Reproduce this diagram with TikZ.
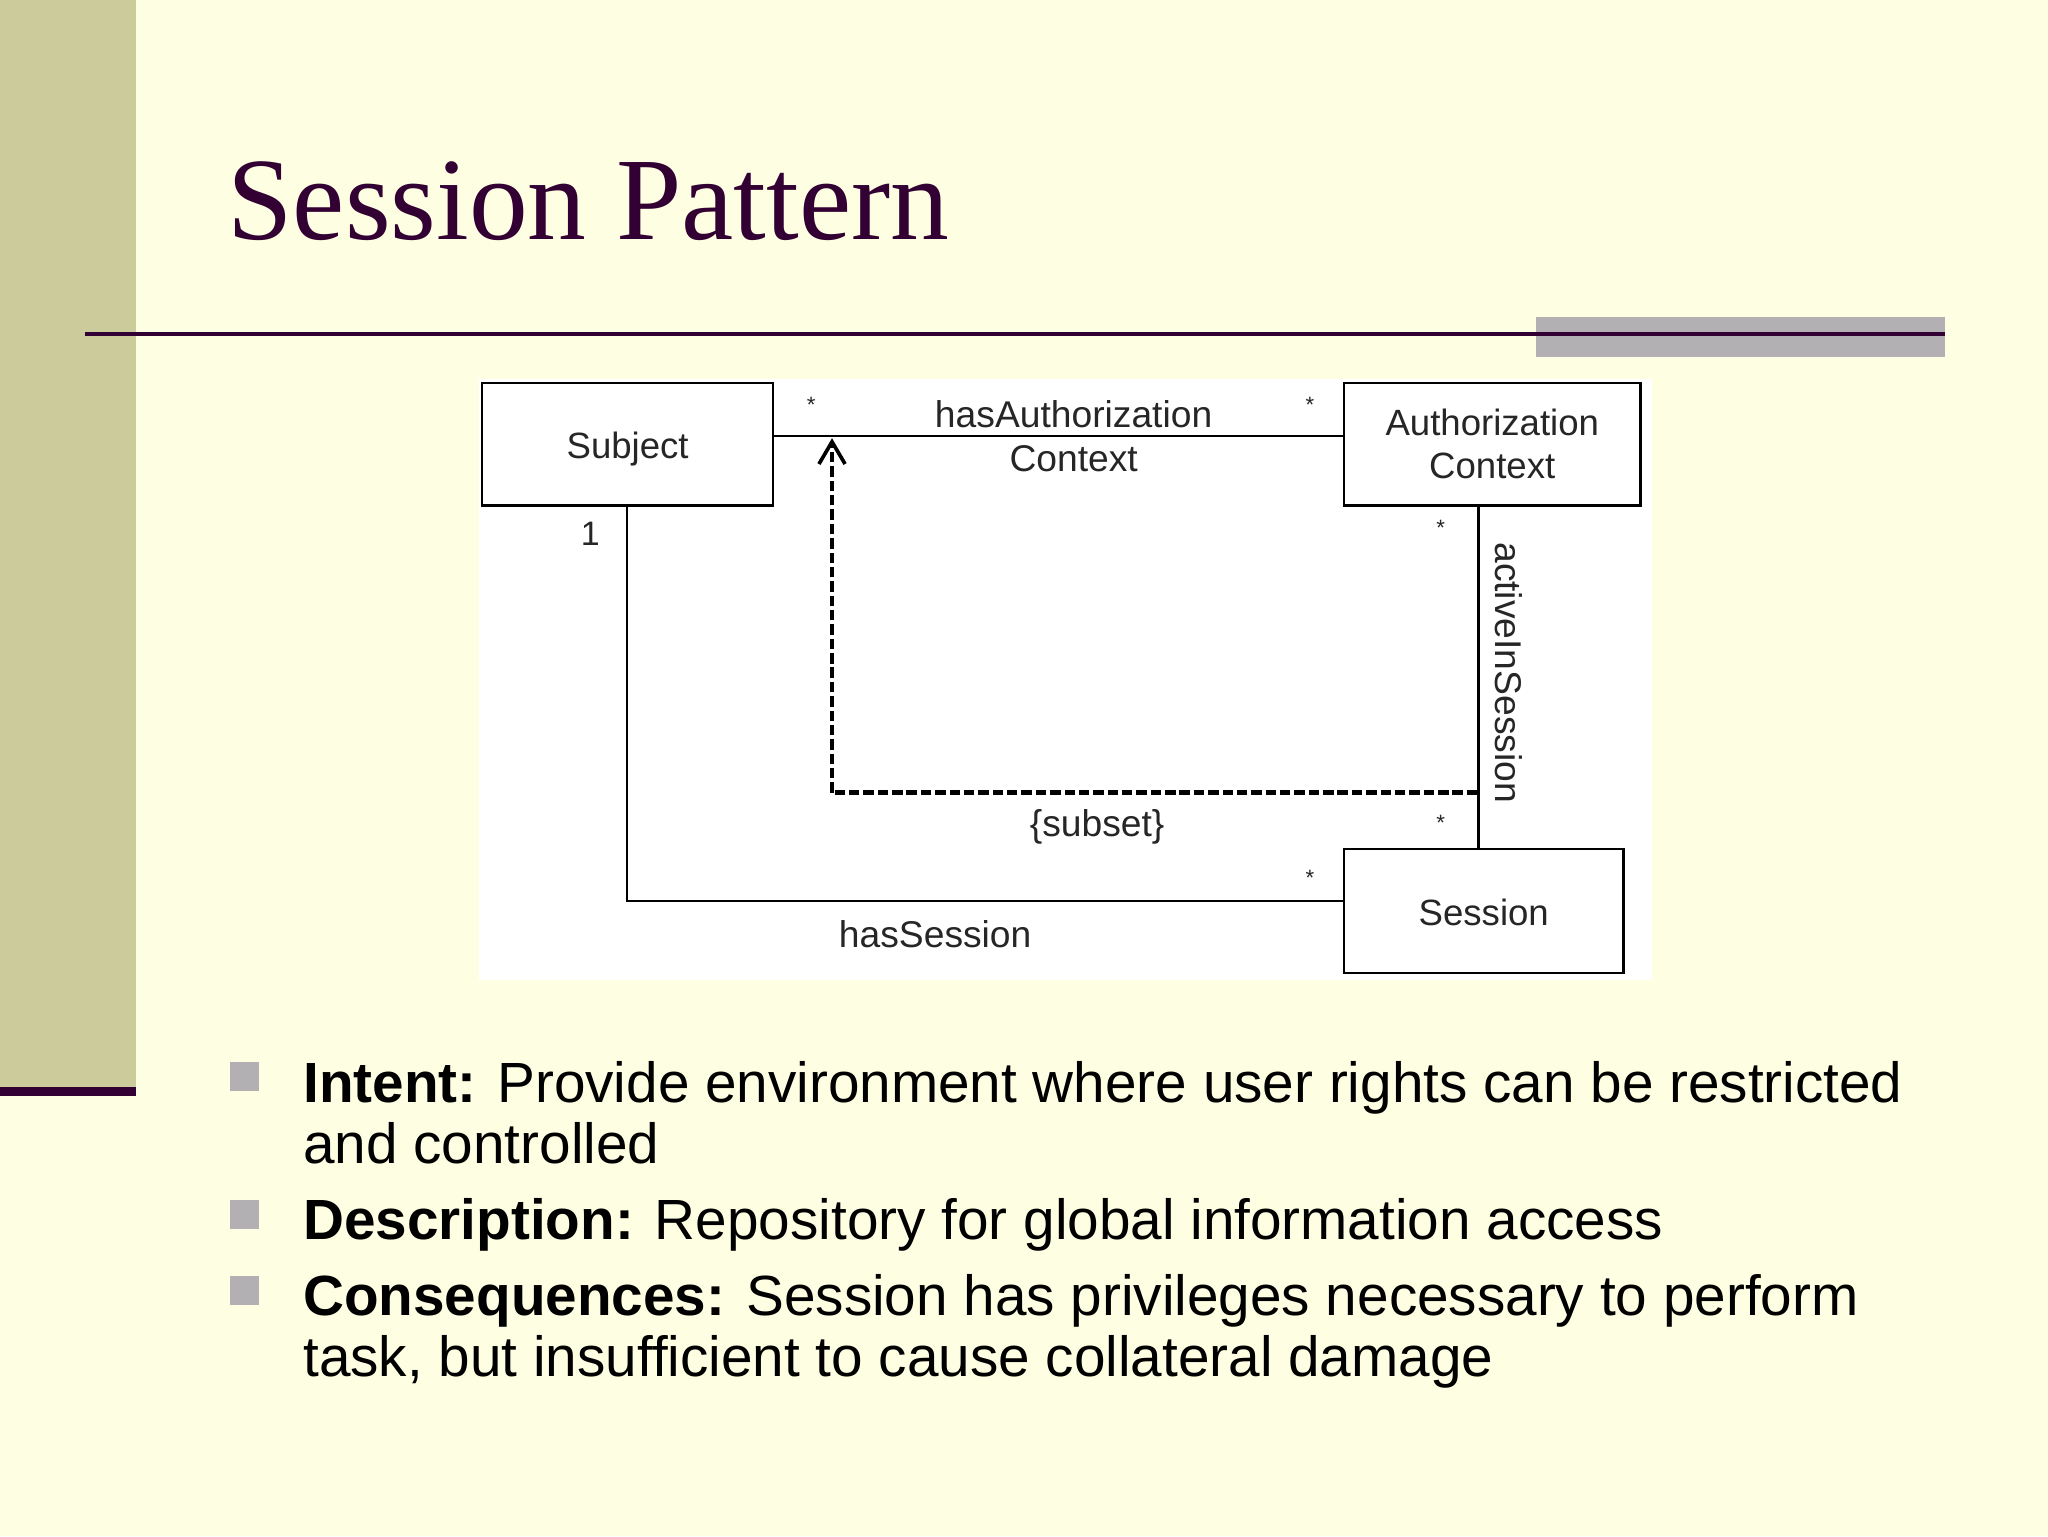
\documentclass[tikz,border=0pt]{standalone}
\usepackage{fontspec}
\setmainfont{Liberation Sans}
\newfontfamily\titlefont{Liberation Serif}
\usetikzlibrary{arrows.meta}
\definecolor{bgyellow}{HTML}{FEFEE2}
\definecolor{barolive}{HTML}{CBCB9B}
\definecolor{plum}{HTML}{330033}
\definecolor{bargray}{HTML}{B2B0B2}
\definecolor{umlink}{HTML}{262626}
\tikzset{
  cls/.style={draw=black, line width=1.6pt, fill=white, inner sep=0pt, text=umlink,
    font=\fontsize{28}{34}\selectfont, align=center},
  assoc/.style={draw=black, line width=1.8pt},
  lbl/.style={text=umlink, font=\fontsize{28.5}{34}\selectfont, inner sep=0pt},
  mult/.style={text=umlink, font=\fontsize{17}{17}\selectfont, inner sep=0pt},
  dep/.style={draw=black, line width=3.6pt, dash pattern=on 8pt off 3pt},
  bul/.style={fill=bargray, draw=none},
  btxt/.style={anchor=base west, inner sep=0pt, font=\fontsize{43.4}{47}\selectfont, text=black},
}
\begin{document}
\begin{tikzpicture}[x=1pt,y=-1pt]
\useasboundingbox (0,0) rectangle (1568,1176);
% background
\fill[bgyellow] (0,0) rectangle (1568,1176);
\fill[barolive] (0,0) rectangle (104,832);
\fill[plum] (0,832) rectangle (104,839);
% title
\node[anchor=base west, inner sep=0pt, text=plum, font=\titlefont\fontsize{90}{90}\selectfont] (title) at (174,183) {Session Pattern};
% title rule
\fill[bargray] (1176,243) rectangle (1489,273);
\draw[plum, line width=3pt] (65,256) -- (1489,256);
% diagram canvas
\fill[white] (367,290) rectangle (1265,750);
% classes
\node[cls, minimum width=223pt, minimum height=94pt] (subj) at (480.5,340) {\raisebox{-4pt}[\height][\depth]{Subject}};
\node[cls, minimum width=227pt, minimum height=94pt] (actx) at (1142.5,340) {Authorization\\[-1pt]Context};
\node[cls, minimum width=214pt, minimum height=95pt] (sess) at (1136,697.5) {\raisebox{-1pt}[\height][\depth]{Session}};
% hasAuthorizationContext
\draw[assoc] (subj.east |- 0,334) -- (actx.west |- 0,334);
\node[lbl] (hac1) at (822,317) {hasAuthorization};
\node[lbl] (hac2) at (822,351) {Context};
\node[mult] (m1) at (621,310) {*};
\node[mult] (m2) at (1003,310) {*};
% hasSession
\coordinate (hsc) at (480,690);
\draw[assoc] (subj.south -| hsc) -- (hsc) -- (sess.west |- hsc);
\node[lbl] (hs) at (716,715) {hasSession};
\node[text=umlink, font=\fontsize{26}{26}\selectfont, inner sep=0pt] (one) at (452,409) {1};
\node[mult] (m3) at (1003,672) {*};
% activeInSession
\coordinate (ais) at (1132,0);
\draw[assoc] (actx.south -| ais) -- (sess.north -| ais);
\node[lbl, rotate=-90] (aisl) at (1155,515) {activeInSession};
\node[mult] (m4) at (1103,404) {*};
\node[mult] (m5) at (1103,630) {*};
% subset dependency
\coordinate (dstart) at (1131,607);
\coordinate (dcorner) at (637,607);
\coordinate (dend) at (637,335.5);
\draw[dep] (dstart) -- (dcorner);
\draw[dep, line width=2.4pt, -{Straight Barb[length=17pt,width=20pt,line width=2.8pt]}] (dcorner) -- (dend);
\node[lbl] (subset) at (840,633) {\{subset\}};
% bullets
\fill[bul] (176,813) rectangle (198,835);
\fill[bul] (176,919) rectangle (198,941);
\fill[bul] (176,977) rectangle (198,999);
\node[btxt] (b1a) at (232,844) {\textbf{Intent:} Provide environment where user rights can be restricted};
\node[btxt] (b1b) at (232,891) {and controlled};
\node[btxt] (b2) at (232,949) {\textbf{Description:} Repository for global information access};
\node[btxt] (b3a) at (232,1007) {\textbf{Consequences:} Session has privileges necessary to perform};
\node[btxt] (b3b) at (232,1054) {task, but insufficient to cause collateral damage};
\end{tikzpicture}
\end{document}
